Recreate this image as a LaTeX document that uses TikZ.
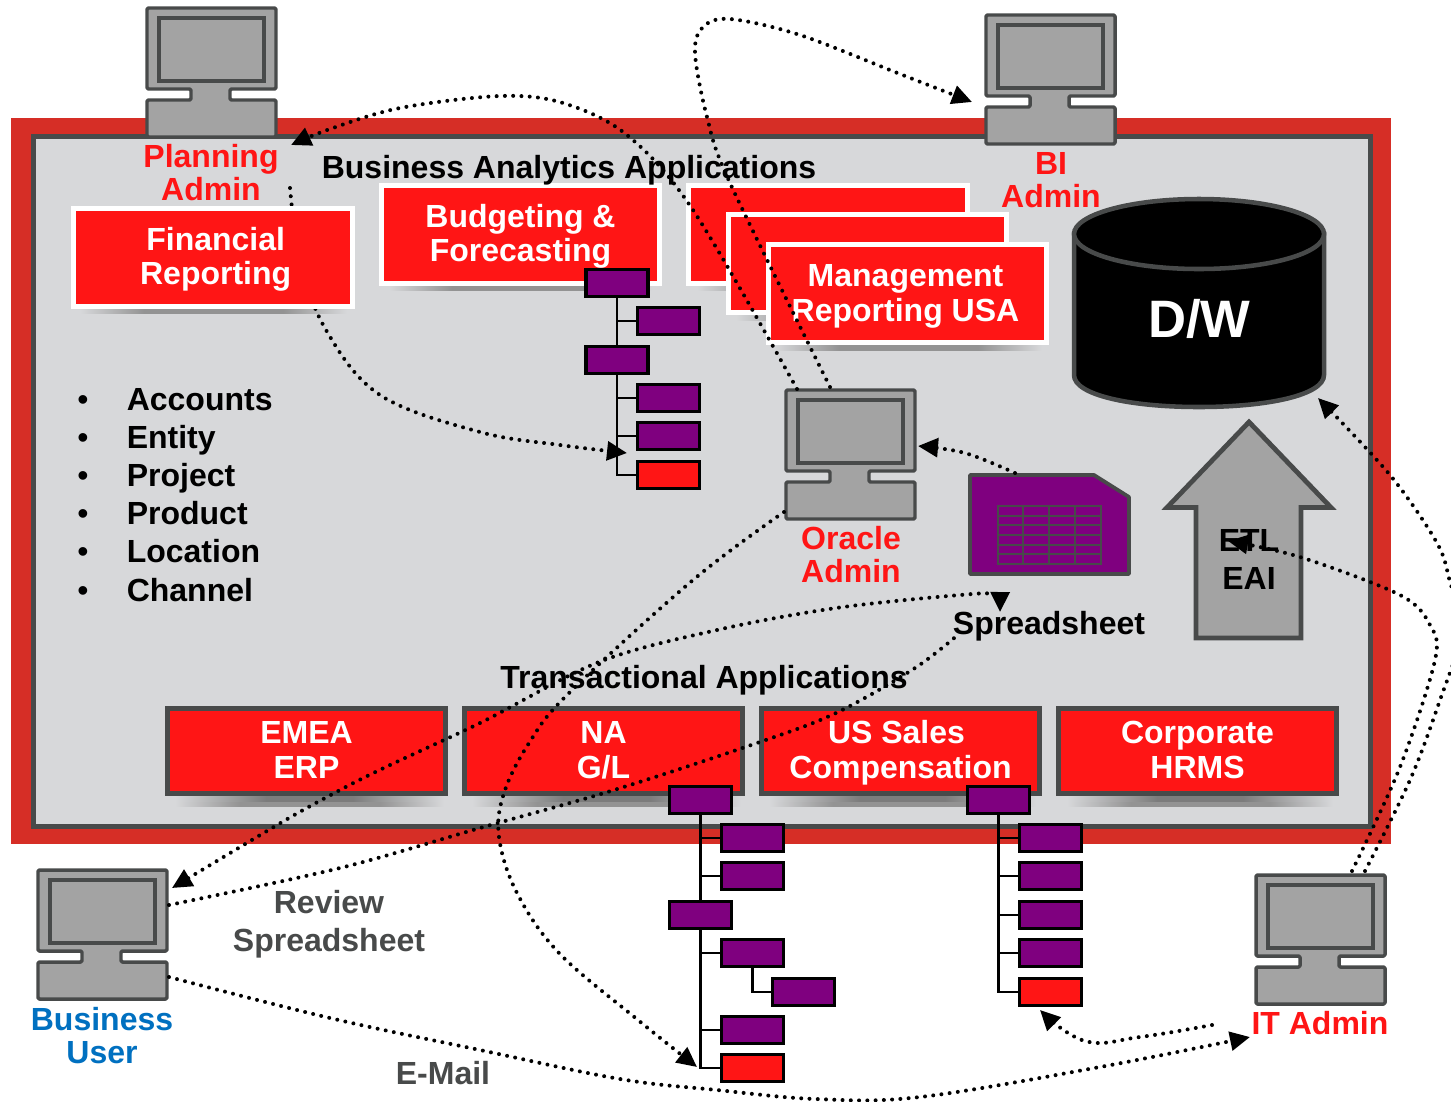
\documentclass[tikz,border=0pt]{standalone}
\usepackage{fontspec}
\setmainfont{Liberation Sans}
\usetikzlibrary{arrows.meta}
\definecolor{frameRed}{HTML}{D62E26}
\definecolor{panelGray}{HTML}{D7D8DA}
\definecolor{edgeGray}{HTML}{484A4A}
\definecolor{iconGray}{HTML}{A3A3A3}
\definecolor{boxRed}{HTML}{FF1515}
\definecolor{treePurple}{HTML}{7F007F}
\definecolor{userBlue}{HTML}{0070C0}
\definecolor{shadowGray}{HTML}{939393}
\definecolor{shadowDark}{HTML}{7C7C7C}
\pgfdeclarehorizontalshading{softbar}{100bp}{color(0bp)=(panelGray); color(25bp)=(panelGray); color(37bp)=(shadowGray); color(63bp)=(shadowGray); color(75bp)=(panelGray); color(100bp)=(panelGray)}
\pgfdeclarehorizontalshading{softdark}{100bp}{color(0bp)=(panelGray); color(25bp)=(panelGray); color(42bp)=(shadowDark); color(58bp)=(shadowDark); color(75bp)=(panelGray); color(100bp)=(panelGray)}
% a line whose capitals are centred in its slot, so a node's centre is the middle of the capitals
\newcommand{\lst}[1][0pt]{\rule[\dimexpr-0.5\baselineskip+4.6pt-#1\relax]{0pt}{\dimexpr\baselineskip+8pt+#1\relax}}
\newcommand{\lbl}{\fontsize{24}{24.75}\selectfont\bfseries\lineskiplimit=-100pt }
\newcommand{\lblbox}{\fontsize{24}{25.9}\selectfont\bfseries\lineskiplimit=-100pt }
\newcommand{\lblwide}{\fontsize{24}{28.5}\selectfont\bfseries\lineskiplimit=-100pt }
\tikzset{
  x=0.75pt,y=-0.75pt,
  >={Triangle[length=15pt,width=14pt]},
  txt/.style={font=\lbl,align=center,inner sep=0pt},
  whitebox/.style={txt,font=\lblbox,text=white,fill=boxRed,draw=white,line width=3.75pt,minimum width=209pt,minimum height=73.5pt},
  greybox/.style={txt,font=\lblbox,text=white,fill=boxRed,draw=edgeGray,line width=3.75pt,minimum width=208.5pt,minimum height=63.75pt},
  treebox/.style={fill=treePurple,draw=black,line width=2.6pt,minimum width=46.5pt,minimum height=20.25pt,inner sep=0pt},
  treeend/.style={treebox,fill=boxRed},
  treeline/.style={draw=black,line width=2.2pt},
  dotline/.style={draw=black,line width=3pt,line cap=round,dash pattern=on 0pt off 6.2pt},
  softshadow/.style={shading=softbar,draw=none},
  darkshadow/.style={shading=softdark,draw=none},
  pics/computer/.style={code={
    \draw[fill=iconGray,draw=edgeGray,line width=2.6pt,rounded corners=1pt,line join=round]
      (0,0)--(129,0)--(129,81)--(83,81)--(83,92)--(129,92)--(129,129)--(0,129)--(0,92)--(44,92)--(44,81)--(0,81)--cycle;
    \draw[fill=iconGray,draw=edgeGray,line width=3pt] (12,10) rectangle (117,73);
  }}
}
\begin{document}
\begin{tikzpicture}
\useasboundingbox (0,0) rectangle (1451,1101);
\fill[white] (0,0) rectangle (1451,1101);
% frame
\fill[frameRed] (11,118) rectangle (1391,844);
\draw[fill=panelGray,draw=edgeGray,line width=3.75pt] (33,136) rectangle (1370,826.5);
% box shadows
\shade[softshadow] (80,309) rectangle (347,313);
\shade[softshadow] (389,285) rectangle (652,290);
\shade[softshadow] (697,285) rectangle (960,290);
\shade[softshadow] (736,315) rectangle (999,320);
\shade[softshadow] (775,345) rectangle (1042,350);
\foreach \sa/\sb in {175/444,472/741,769/1036,1067/1333}{
  \shade[softshadow] (\sa,796) rectangle (\sb,806);
  \shade[darkshadow] (\sa,796) rectangle (\sb,801);
}
% red boxes
\node[whitebox] (budget) at (520.5,234) {\lst Budgeting \&\\\lst[1.5pt]Forecasting};
\node[whitebox] (backA) at (828,234) {};
\node[whitebox] (backB) at (867.5,263.5) {};
\node[whitebox] (mgmt) at (907.5,293.5) {\lst Management\hspace*{3pt}\\\lst[1.5pt]Reporting USA\hspace*{3pt}};
\node[greybox] (emea) at (306.5,751) {\lst EMEA\\\lst[2.25pt]ERP};
\node[greybox] (na) at (603.5,751) {\lst NA\\\lst[2.25pt]G/L};
\node[greybox] (us) at (900.5,751) {\lst US Sales\hspace*{6pt}\\\lst[2.25pt]Compensation};
\node[greybox] (hrms) at (1197.5,751) {\lst Corporate\\\lst[2.25pt]HRMS};
% tree under Budgeting
\node[treebox] (ba) at (617,283) {};
\node[treebox] (bb) at (668.5,321) {};
\node[treebox] (bc) at (617,360) {};
\node[treebox] (bd) at (668.5,398) {};
\node[treebox] (be) at (668.5,436) {};
\node[treeend] (bf) at (668.5,475) {};
\draw[treeline] (ba) -- (bc);
\draw[treeline] (bc) |- (bf);
\draw[treeline] (ba) |- (bb);
\draw[treeline] (bc) |- (bd);
\draw[treeline] (bc) |- (be);
% tree under NA
\node[treebox] (na0) at (700.5,800) {};
\node[treebox] (na1) at (752.5,838) {};
\node[treebox] (na2) at (752.5,876) {};
\node[treebox] (na3) at (700.5,915) {};
\node[treebox] (na4) at (752.5,953) {};
\node[treebox] (na5) at (803.5,992) {};
\node[treebox] (na6) at (752.5,1030) {};
\node[treeend] (na7) at (752.5,1068) {};
\draw[treeline] (na0) -- (na3);
\draw[treeline] (na0) |- (na1);
\draw[treeline] (na0) |- (na2);
\draw[treeline] (na3) |- (na4);
\draw[treeline] (na3) |- (na6);
\draw[treeline] (na3) |- (na7);
\draw[treeline] (na4) |- (na5);
% tree under US
\node[treebox] (us0) at (998.5,800) {};
\node[treebox] (us1) at (1050.5,838) {};
\node[treebox] (us2) at (1050.5,876) {};
\node[treebox] (us3) at (1050.5,915) {};
\node[treebox] (us4) at (1050.5,953) {};
\node[treeend] (us5) at (1050.5,992) {};
\draw[treeline] (us0) |- (us1);
\draw[treeline] (us0) |- (us2);
\draw[treeline] (us0) |- (us3);
\draw[treeline] (us0) |- (us4);
\draw[treeline] (us0) |- (us5);
% D/W
\draw[fill=black,draw=edgeGray,line width=3.4pt]
  (1074,234) -- (1074,375) .. controls (1074,395) and (1130,407) .. (1199,407)
  .. controls (1268,407) and (1324,395) .. (1324,375) -- (1324,234) -- cycle;
\draw[fill=black,draw=edgeGray,line width=3.4pt] (1199,234) ellipse [x radius=125,y radius=35];
\node[txt,text=white,font=\fontsize{39.5}{41}\selectfont\bfseries] (dw) at (1199.5,319) {D/W};
% ETL arrow
\draw[fill=iconGray,draw=edgeGray,line width=3.6pt,line join=miter]
  (1249,422) -- (1331,507.5) -- (1301,507.5) -- (1301,638) -- (1196,638) -- (1196,507.5) -- (1167,507.5) -- cycle;
% spreadsheet
\draw[fill=treePurple,draw=edgeGray,line width=2.8pt,line join=round]
  (970,475) -- (1094,475) -- (1129,497) -- (1129,574) -- (970,574) -- cycle;
\draw[edgeGray,line width=1.4pt] (998,506) rectangle (1101,564);
\foreach \gx in {1023,1049,1075} \draw[edgeGray,line width=1.4pt] (\gx,506) -- (\gx,564);
\foreach \gy in {516,525,535,545,554} \draw[edgeGray,line width=1.4pt] (998,\gy) -- (1101,\gy);
% labels
\node[txt] (bizapps) at (569,167) {\lst Business Analytics  Applications};
\node[txt] (transapps) at (704,677) {\lst Transactional Applications};
\node[txt] (sheetlbl) at (1049,623) {\lst Spreadsheet};
\node[txt,font=\lblwide] (etl) at (1249,559) {\lst ETL\\\lst EAI};
\node[txt,text=boxRed] (planlbl) at (211,172.5) {\lst Planning\\\lst Admin};
\node[txt,text=boxRed] (bilbl) at (1051,179.5) {\lst BI\\\lst Admin};
\node[txt,text=boxRed] (oralbl) at (851,554.5) {\lst Oracle\\\lst Admin};
\node[txt,text=boxRed] (itlbl) at (1320,1023) {\lst IT Admin};
\node[txt,text=userBlue] (buslbl) at (102,1035.5) {\lst Business\\\lst User};
\node[txt,text=edgeGray,font=\lblwide] (reviewlbl) at (329,921) {\lst Review\\\lst Spreadsheet};
\node[txt,text=edgeGray] (maillbl) at (443,1073) {\lst E-Mail};
\foreach \yy/\tt/\nn in {399/Accounts/a,437/Entity/b,475/Project/c,513/Product/d,551/Location/e,590/Channel/f}{
  \node[txt,anchor=west] (dim\nn) at (126.5,\yy) {\lst \tt};
  \node[txt,font=\fontsize{24}{24.75}\selectfont] (bul\nn) at (83,\yy) {\lst •};
}
% computers
\pic at (147,8) {computer};
\pic at (986,15) {computer};
\pic at (786,390) {computer};
\pic at (38,870) {computer};
\pic at (1256,875) {computer};
% connector end points
\coordinate (planStart) at (290,188);
\coordinate (bfTip) at (627,453);
\coordinate (oraTopA) at (797,389);
\coordinate (oraTopB) at (830,387);
\coordinate (planTip) at (291,145);
\coordinate (biTip) at (972,102);
\coordinate (sheetTop) at (1015,473);
\coordinate (oraTip) at (918,446);
\coordinate (oraLeft) at (784,512);
\coordinate (naTip) at (697,1067);
\coordinate (busTip) at (172,888);
\coordinate (sheetTip) at (1000,612);
\coordinate (busRightA) at (169,905);
\coordinate (sheetLow) at (960,633);
\coordinate (busRightB) at (169,977);
\coordinate (itTip) at (1250,1037);
\coordinate (itLblLeft) at (1212,1025);
\coordinate (usTip) at (1040,1010);
\coordinate (itTopA) at (1352,871);
\coordinate (itTopB) at (1365,871);
\coordinate (etlTip) at (1228,541);
\coordinate (dwTip) at (1318,398);
% connector that passes behind Financial Reporting
\draw[dotline,->] plot[smooth,tension=0.6] coordinates {(planStart) (300,260) (326,330) (380,395) (480,432) (560,445) (bfTip)};
\node[whitebox] (finrep) at (213,257) {\lst\hspace*{4pt}Financial\\\lst[1.5pt]\hspace*{4pt}Reporting};
% other connectors
\begin{scope}
\clip (0,0) rectangle (1451,1101);
\draw[dotline,->] plot[smooth,tension=0.55] coordinates {(oraTopA) (693,210) (627,135) (563,103) (500,96) (400,108) (330,129) (planTip)};
\draw[dotline,->] plot[smooth,tension=0.55] coordinates {(oraTopB) (730,183) (707,117) (695,53) (703,27) (730,19) (800,35) (900,74) (biTip)};
\draw[dotline,->] plot[smooth,tension=0.6] coordinates {(sheetTop) (965,453) (oraTip)};
\draw[dotline,->] plot[smooth,tension=0.6] coordinates {(oraLeft) (693,580) (569,693) (529,743) (504,793) (499,837) (517,893) (559,953) (638,1020) (naTip)};
\draw[dotline,<->] plot[smooth,tension=0.55] coordinates {(busTip) (340,790) (480,723) (599,662) (717,630) (836,608) (960,595) (994,595) (sheetTip)};
\draw[dotline] plot[smooth,tension=0.55] coordinates {(busRightA) (340,868) (480,828) (614,790) (757,743) (836,713) (915,668) (sheetLow)};
\draw[dotline,->] plot[smooth,tension=0.6] coordinates {(busRightB) (330,1018) (480,1050) (620,1079) (717,1090) (816,1099) (920,1097) (1100,1067) (itTip)};
\draw[dotline,->] plot[smooth,tension=0.7] coordinates {(itLblLeft) (1140,1037) (1085,1041) (usTip)};
\draw[dotline,->] plot[smooth,tension=0.55] coordinates {(itTopA) (1400,767) (1435,660) (1430,625) (1400,595) (1300,557) (etlTip)};
\draw[dotline,->] plot[smooth,tension=0.55] coordinates {(itTopB) (1410,780) (1440,700) (1462,630) (1450,582) (1437,543) (1390,475) (dwTip)};
\end{scope}
\end{tikzpicture}
\end{document}
